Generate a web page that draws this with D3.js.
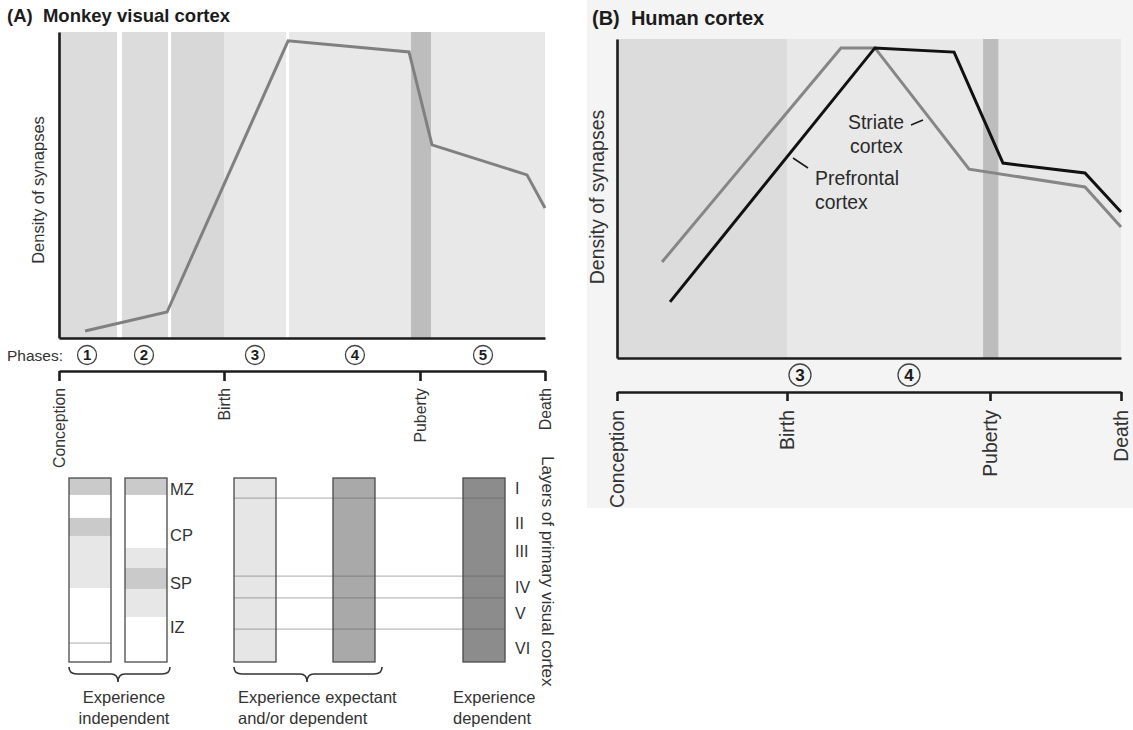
<!DOCTYPE html>
<html>
<head>
<meta charset="utf-8">
<script src="https://cdn.jsdelivr.net/npm/d3@7"></script>
<style>
  body { margin: 0; background: #fff; }
  svg { display: block; font-family: "Liberation Sans", Arial, sans-serif; }
</style>
</head>
<body>
<div id="chart"></div>
<script>
// DATA
// time axis: 0 = conception, 1 = birth, 2 = puberty, 3 = death
const milestones = ["Conception", "Birth", "Puberty", "Death"]

const monkeyT = [0.158, 0.655, 1.327, 1.944, 2.096, 2.856, 3.0]
const monkeyDensity = [2.3, 8.5, 97.1, 93.5, 63.1, 53.3, 42.5]
const monkeyBandStart = [0, 0.382, 0.679, 1.0, 1.332, 1.954, 2.088]
const monkeyBandEnd = [0.352, 0.661, 1.0, 1.316, 1.954, 2.088, 3.0]
const monkeyBandTone = ["pre", "pre", "late", "post", "post", "puberty", "post"]
const monkeyPhases = ["1", "2", "3", "4", "5"]
const monkeyPhaseT = [0.17, 0.515, 1.158, 1.668, 2.504]

const striateT = [0.265, 1.266, 1.433, 1.897, 2.725, 3.0]
const striateDensity = [30.1, 97.2, 97.2, 59.2, 53.6, 41.1]
const prefrontalT = [0.312, 1.433, 1.823, 2.099, 2.725, 3.0]
const prefrontalDensity = [17.6, 97.2, 95.9, 61.1, 58.0, 45.8]
const humanBandStart = [0, 1.0, 1.966, 2.066]
const humanBandEnd = [1.0, 1.966, 2.066, 3.0]
const humanBandTone = ["pre", "post", "puberty", "post"]
const humanPhases = ["3", "4"]
const humanPhaseT = [1.064, 1.601]

// cortical columns (depth 0 = pia, 1 = white matter)
const columnTone = ["none", "none", "light", "mid", "dark"]
const shadeColumn = [0, 0, 0, 1, 1, 1, 1]
const shadeStart = [0, 0.217, 0.315, 0, 0.38, 0.489, 0.603]
const shadeEnd = [0.092, 0.315, 0.598, 0.092, 0.489, 0.603, 0.755]
const shadeTone = ["dark", "dark", "light", "dark", "light", "dark", "light"]
const zoneLabels = ["MZ", "CP", "SP", "IZ"]
const zoneDepth = [0.06, 0.31, 0.57, 0.81]
const layerLabels = ["I", "II", "III", "IV", "V", "VI"]
const layerDepth = [0.054, 0.245, 0.397, 0.592, 0.734, 0.924]
const layerBoundaries = [0.109, 0.533, 0.652, 0.821]
const fetalLine = [0.897]
const groupLabels = [
  ["Experience", "independent"],
  ["Experience expectant", "and/or dependent"],
  ["Experience", "dependent"],
]

// LAYOUT
const width = 1133
const height = 730
const ink = "#1c1c1c"

const bandColor = d3.scaleOrdinal()
  .domain(["pre", "late", "post", "puberty"])
  .range(["#dcdcdc", "#d8d8d8", "#e8e8e8", "#bdbdbd"])
const shadeColor = d3.scaleOrdinal()
  .domain(["none", "light", "mid", "dark"])
  .range(["#ffffff", "#e6e6e6", "#a9a9a9", "#8c8c8c"])

const svg = d3.select("#chart")
  .append("svg")
  .attr("width", width)
  .attr("height", height)

svg.append("rect").attr("width", width).attr("height", height).attr("fill", "#fff")
// panel B background
svg.append("rect")
  .attr("x", 587).attr("y", 0)
  .attr("width", width - 587).attr("height", 508)
  .attr("fill", "#f4f4f4")

const drawPanel = (p) => {
  const g = svg.append("g")
  const x = d3.scaleLinear().domain([0, 1, 2, 3]).range(p.xRange)
  const y = d3.scaleLinear().domain([0, 100]).range([p.bottom, p.top])

  g.selectAll("rect.band").data(p.bandStart).join("rect")
    .attr("class", "band")
    .attr("x", (d) => x(d))
    .attr("width", (d, i) => x(p.bandEnd[i]) - x(d))
    .attr("y", p.top)
    .attr("height", p.bottom - p.top)
    .attr("fill", (d, i) => bandColor(p.bandTone[i]))

  const line = d3.line()
    .x((d) => x(d[0]))
    .y((d) => y(d[1]))

  p.series.forEach((s) => {
    g.append("path")
      .datum(d3.zip(s.t, s.v))
      .attr("d", line)
      .attr("fill", "none")
      .attr("stroke", s.color)
      .attr("stroke-width", 3)
      .attr("stroke-linejoin", "miter")
  })

  // density axes
  const yAxis = g.append("g")
    .attr("transform", `translate(${p.xRange[0]},0)`)
    .call(d3.axisLeft(y).tickValues([]).tickSizeOuter(0))
  const xAxis = g.append("g")
    .attr("transform", `translate(0,${p.bottom})`)
    .call(d3.axisBottom(x).tickValues([]).tickSizeOuter(0))
  ;[yAxis, xAxis].forEach((a) => a.select(".domain")
    .attr("stroke", ink).attr("stroke-width", 2.6))

  g.append("text")
    .attr("transform", `translate(${p.ylabelX},${p.ylabelY}) rotate(-90)`)
    .attr("text-anchor", "middle")
    .attr("dy", "0.35em")
    .attr("font-size", p.ylabelSize)
    .attr("fill", "#333")
    .text("Density of synapses")

  // phases
  const ph = g.selectAll("g.phase").data(p.phases).join("g")
    .attr("class", "phase")
    .attr("transform", (d, i) => `translate(${x(p.phaseT[i])},${p.phaseY})`)
  ph.append("circle")
    .attr("r", p.phaseR)
    .attr("fill", "none")
    .attr("stroke", "#444")
    .attr("stroke-width", 1.3)
  ph.append("text")
    .attr("text-anchor", "middle")
    .attr("dy", "0.36em")
    .attr("font-weight", "bold")
    .attr("font-size", p.phaseSize)
    .attr("fill", ink)
    .text((d) => d)

  // life timeline
  const timeline = g.append("g")
    .attr("transform", `translate(0,${p.timelineY})`)
    .call(d3.axisBottom(x)
      .tickValues([0, 1, 2, 3])
      .tickFormat((d) => milestones[d])
      .tickSizeInner(p.tickLen)
      .tickSizeOuter(0))
  timeline.select(".domain").attr("stroke", ink).attr("stroke-width", 2.6)
  timeline.selectAll(".tick line").attr("stroke", ink).attr("stroke-width", 2.6)
  timeline.selectAll(".tick text")
    .attr("transform", "rotate(-90)")
    .attr("text-anchor", "end")
    .attr("x", -(p.labelTop - p.timelineY))
    .attr("y", 0)
    .attr("dy", "0.35em")
    .attr("font-size", p.labelSize)
    .attr("font-family", null)
    .attr("fill", "#333")

  g.append("text")
    .attr("x", p.titleX).attr("y", p.titleY)
    .attr("font-size", p.titleSize)
    .attr("font-weight", "bold")
    .attr("fill", ink)
    .style("white-space", "pre")
    .text(p.title)

  return { x, y, g }
}

const panelA = drawPanel({
  title: "(A)  Monkey visual cortex", titleX: 7, titleY: 22, titleSize: 18.5,
  xRange: [59, 224, 420, 545], top: 32, bottom: 338,
  bandStart: monkeyBandStart, bandEnd: monkeyBandEnd, bandTone: monkeyBandTone,
  series: [{ t: monkeyT, v: monkeyDensity, color: "#808080" }],
  ylabelX: 38, ylabelY: 190, ylabelSize: 16.5,
  phases: monkeyPhases, phaseT: monkeyPhaseT, phaseY: 355, phaseR: 9.5, phaseSize: 15,
  timelineY: 371, tickLen: 10, labelTop: 388, labelSize: 15.8,
})

panelA.g.append("text")
  .attr("x", 7).attr("y", 361)
  .attr("font-size", 15.5)
  .attr("fill", "#333")
  .text("Phases:")

const panelB = drawPanel({
  title: "(B)  Human cortex", titleX: 592, titleY: 25, titleSize: 20,
  xRange: [617, 787, 990, 1121], top: 39, bottom: 358,
  bandStart: humanBandStart, bandEnd: humanBandEnd, bandTone: humanBandTone,
  series: [
    { t: striateT, v: striateDensity, color: "#868686" },
    { t: prefrontalT, v: prefrontalDensity, color: "#111" },
  ],
  ylabelX: 597, ylabelY: 197, ylabelSize: 19.5,
  phases: humanPhases, phaseT: humanPhaseT, phaseY: 375, phaseR: 11, phaseSize: 17,
  timelineY: 392, tickLen: 9, labelTop: 410, labelSize: 19.4,
})

// series labels
const lab = panelB.g.append("g").attr("font-size", 19.4).attr("fill", "#2a2a2a")
lab.append("text").attr("x", 848).attr("y", 129).text("Striate")
lab.append("text").attr("x", 850).attr("y", 153).text("cortex")
lab.append("text").attr("x", 815).attr("y", 185).text("Prefrontal")
lab.append("text").attr("x", 815).attr("y", 209).text("cortex")
panelB.g.append("line")
  .attr("x1", 911).attr("y1", 125).attr("x2", 923).attr("y2", 120)
  .attr("stroke", ink).attr("stroke-width", 1.6)
panelB.g.append("line")
  .attr("x1", 793).attr("y1", 158).attr("x2", 808).attr("y2", 168)
  .attr("stroke", ink).attr("stroke-width", 1.6)

// CORTICAL COLUMNS
const colX = [69, 125, 234, 333, 463]
const colW = 42
const depth = d3.scaleLinear().domain([0, 1]).range([478, 662])
const cols = svg.append("g")

cols.selectAll("rect.col").data(columnTone).join("rect")
  .attr("class", "col")
  .attr("x", (d, i) => colX[i])
  .attr("y", depth(0))
  .attr("width", colW)
  .attr("height", depth(1) - depth(0))
  .attr("fill", (d) => shadeColor(d))

cols.selectAll("rect.shade").data(shadeStart).join("rect")
  .attr("class", "shade")
  .attr("x", (d, i) => colX[shadeColumn[i]])
  .attr("y", (d) => depth(d))
  .attr("width", colW)
  .attr("height", (d, i) => depth(shadeEnd[i]) - depth(d))
  .attr("fill", (d, i) => shadeTone[i] === "dark" ? "#cacaca" : "#e7e7e7")

cols.selectAll("line.fetal").data(fetalLine).join("line")
  .attr("x1", colX[0]).attr("x2", colX[0] + colW)
  .attr("y1", (d) => depth(d)).attr("y2", (d) => depth(d))
  .attr("stroke", "#aaa").attr("stroke-width", 1)

cols.selectAll("line.layer").data(layerBoundaries).join("line")
  .attr("class", "layer")
  .attr("x1", colX[2]).attr("x2", colX[4] + colW)
  .attr("y1", (d) => depth(d)).attr("y2", (d) => depth(d))
  .attr("stroke", "#555").attr("stroke-opacity", 0.4).attr("stroke-width", 1.2)

cols.selectAll("rect.border").data(columnTone).join("rect")
  .attr("class", "border")
  .attr("x", (d, i) => colX[i])
  .attr("y", depth(0))
  .attr("width", colW)
  .attr("height", depth(1) - depth(0))
  .attr("fill", "none")
  .attr("stroke", "#4a4a4a")
  .attr("stroke-width", 1.3)

cols.selectAll("text.zone").data(zoneLabels).join("text")
  .attr("class", "zone")
  .attr("x", 170)
  .attr("y", (d, i) => depth(zoneDepth[i]))
  .attr("dy", "0.36em")
  .attr("font-size", 16.5)
  .attr("fill", "#333")
  .text((d) => d)

cols.selectAll("text.layerlab").data(layerLabels).join("text")
  .attr("class", "layerlab")
  .attr("x", 515)
  .attr("y", (d, i) => depth(layerDepth[i]))
  .attr("dy", "0.36em")
  .attr("font-size", 16)
  .attr("fill", "#333")
  .text((d) => d)

cols.append("text")
  .attr("transform", "translate(548,456) rotate(90)")
  .attr("dy", "0.35em")
  .attr("font-size", 17)
  .attr("fill", "#333")
  .text("Layers of primary visual cortex")

// braces
const brace = (x0, x1, xm) => `M${x0},667 Q${x0},674 ${x0 + 8},674 L${xm - 7},674 Q${xm},674 ${xm},682`
  + ` Q${xm},674 ${xm + 7},674 L${x1 - 8},674 Q${x1},674 ${x1},667`
const braceSpec = [[69, 170, 118], [234, 382, 307]]
cols.selectAll("path.brace").data(braceSpec).join("path")
  .attr("d", (d) => brace(d[0], d[1], d[2]))
  .attr("fill", "none")
  .attr("stroke", "#333")
  .attr("stroke-width", 1.6)

const groupX = [124, 238, 453]
const groupAnchor = ["middle", "start", "start"]
const gl = cols.selectAll("text.group").data(groupLabels).join("text")
  .attr("class", "group")
  .attr("text-anchor", (d, i) => groupAnchor[i])
  .attr("font-size", 16.5)
  .attr("fill", "#333")
gl.selectAll("tspan").data((d, i) => d.map((s) => [s, groupX[i]])).join("tspan")
  .attr("x", (d) => d[1])
  .attr("y", (d, j) => 703 + j * 21)
  .text((d) => d[0])
</script>
</body>
</html>
